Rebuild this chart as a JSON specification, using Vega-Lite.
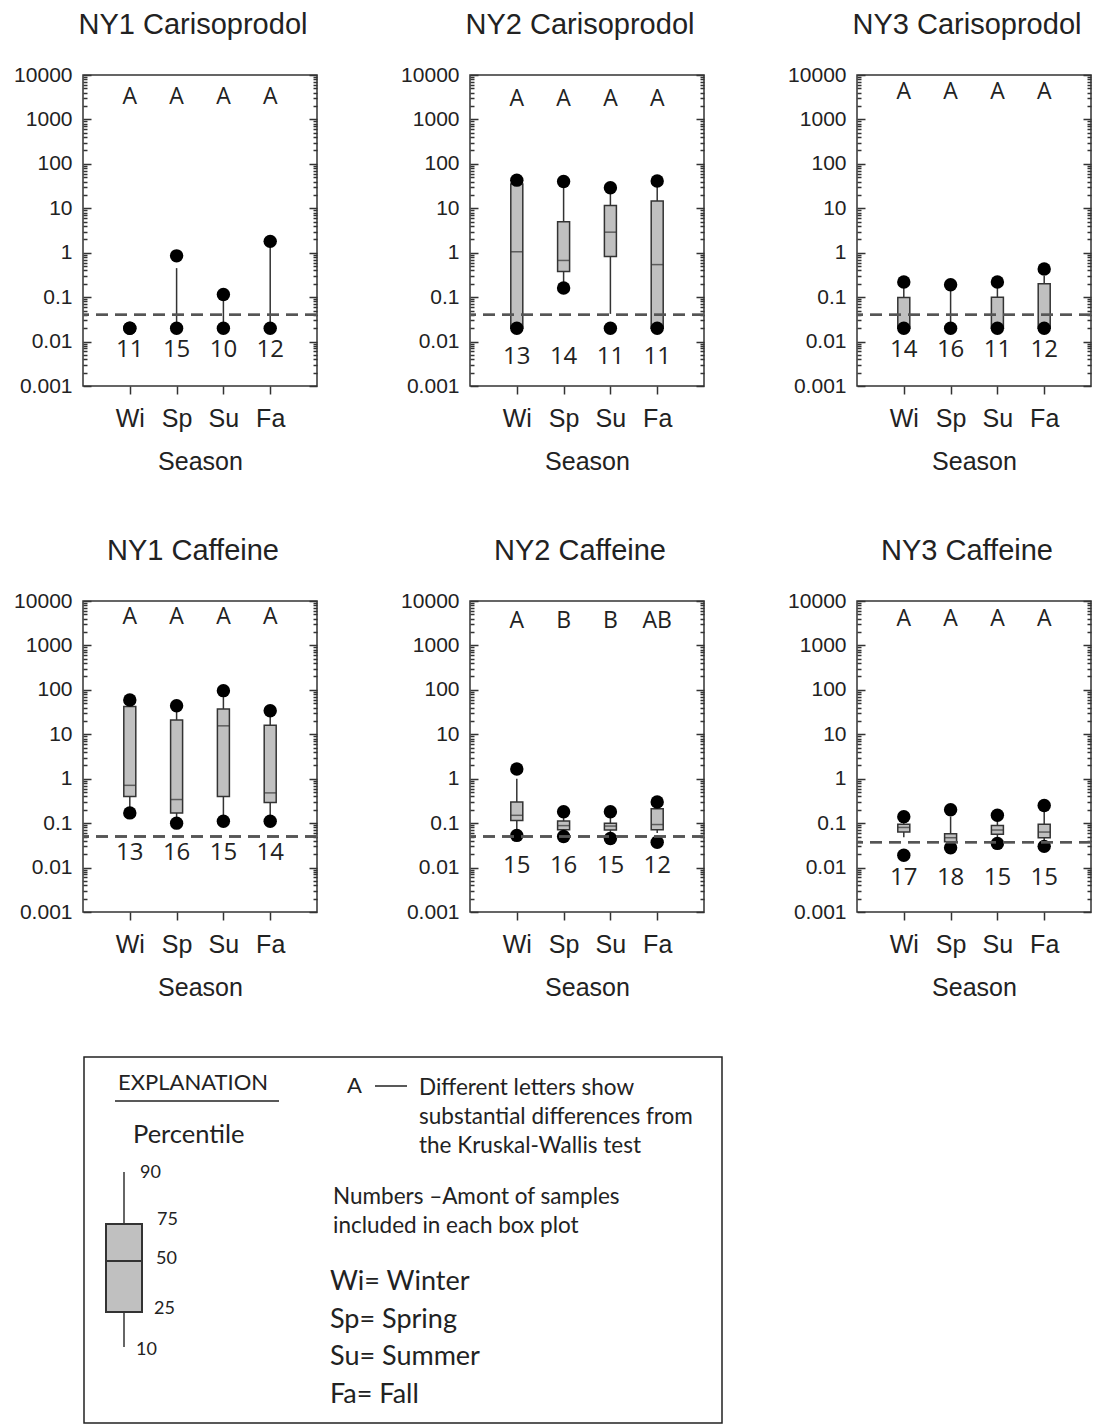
{
  "$schema": "https://vega.github.io/schema/vega-lite/v6.json",
  "padding": {"left": 12, "top": 10, "right": 0, "bottom": 0},
  "background": "white",
  "datasets": {
    "stats": [
      {"site": "NY1 Carisoprodol", "Season": "Wi", "n": 11, "letter": "A", "p10": 0.02, "p25": 0.02, "p50": 0.02, "p75": 0.02, "p90": 0.02, "lo": 0.02, "hi": 0.02},
      {"site": "NY1 Carisoprodol", "Season": "Sp", "n": 15, "letter": "A", "p10": 0.02, "p25": 0.02, "p50": 0.02, "p75": 0.02, "p90": 0.45, "lo": 0.02, "hi": 0.85},
      {"site": "NY1 Carisoprodol", "Season": "Su", "n": 10, "letter": "A", "p10": 0.02, "p25": 0.02, "p50": 0.02, "p75": 0.02, "p90": 0.09, "lo": 0.02, "hi": 0.115},
      {"site": "NY1 Carisoprodol", "Season": "Fa", "n": 12, "letter": "A", "p10": 0.02, "p25": 0.02, "p50": 0.02, "p75": 0.02, "p90": 1.4, "lo": 0.02, "hi": 1.8},
      {"site": "NY2 Carisoprodol", "Season": "Wi", "n": 13, "letter": "A", "p10": 0.02, "p25": 0.02, "p50": 1.05, "p75": 35, "p90": 40, "lo": 0.02, "hi": 43},
      {"site": "NY2 Carisoprodol", "Season": "Sp", "n": 14, "letter": "A", "p10": 0.22, "p25": 0.38, "p50": 0.67, "p75": 5.0, "p90": 30, "lo": 0.16, "hi": 40},
      {"site": "NY2 Carisoprodol", "Season": "Su", "n": 11, "letter": "A", "p10": 0.042, "p25": 0.82, "p50": 2.9, "p75": 11.6, "p90": 22, "lo": 0.02, "hi": 29},
      {"site": "NY2 Carisoprodol", "Season": "Fa", "n": 11, "letter": "A", "p10": 0.02, "p25": 0.02, "p50": 0.54, "p75": 14.5, "p90": 35, "lo": 0.02, "hi": 41},
      {"site": "NY3 Carisoprodol", "Season": "Wi", "n": 14, "letter": "A", "p10": 0.02, "p25": 0.02, "p50": 0.02, "p75": 0.098, "p90": 0.17, "lo": 0.02, "hi": 0.22},
      {"site": "NY3 Carisoprodol", "Season": "Sp", "n": 16, "letter": "A", "p10": 0.02, "p25": 0.02, "p50": 0.02, "p75": 0.02, "p90": 0.15, "lo": 0.02, "hi": 0.19},
      {"site": "NY3 Carisoprodol", "Season": "Su", "n": 11, "letter": "A", "p10": 0.02, "p25": 0.02, "p50": 0.02, "p75": 0.1, "p90": 0.17, "lo": 0.02, "hi": 0.22},
      {"site": "NY3 Carisoprodol", "Season": "Fa", "n": 12, "letter": "A", "p10": 0.02, "p25": 0.02, "p50": 0.02, "p75": 0.2, "p90": 0.3, "lo": 0.02, "hi": 0.43},
      {"site": "NY1 Caffeine", "Season": "Wi", "n": 13, "letter": "A", "p10": 0.22, "p25": 0.4, "p50": 0.71, "p75": 42, "p90": 50, "lo": 0.17, "hi": 59},
      {"site": "NY1 Caffeine", "Season": "Sp", "n": 16, "letter": "A", "p10": 0.13, "p25": 0.17, "p50": 0.34, "p75": 21, "p90": 35, "lo": 0.1, "hi": 44},
      {"site": "NY1 Caffeine", "Season": "Su", "n": 15, "letter": "A", "p10": 0.14, "p25": 0.4, "p50": 15.5, "p75": 37, "p90": 75, "lo": 0.11, "hi": 96},
      {"site": "NY1 Caffeine", "Season": "Fa", "n": 14, "letter": "A", "p10": 0.15, "p25": 0.29, "p50": 0.48, "p75": 16, "p90": 26, "lo": 0.11, "hi": 34},
      {"site": "NY2 Caffeine", "Season": "Wi", "n": 15, "letter": "A", "p10": 0.07, "p25": 0.115, "p50": 0.15, "p75": 0.3, "p90": 1.0, "lo": 0.053, "hi": 1.65},
      {"site": "NY2 Caffeine", "Season": "Sp", "n": 16, "letter": "B", "p10": 0.06, "p25": 0.071, "p50": 0.088, "p75": 0.112, "p90": 0.14, "lo": 0.05, "hi": 0.18},
      {"site": "NY2 Caffeine", "Season": "Su", "n": 15, "letter": "B", "p10": 0.058, "p25": 0.07, "p50": 0.086, "p75": 0.1, "p90": 0.14, "lo": 0.045, "hi": 0.18},
      {"site": "NY2 Caffeine", "Season": "Fa", "n": 12, "letter": "AB", "p10": 0.06, "p25": 0.071, "p50": 0.093, "p75": 0.21, "p90": 0.26, "lo": 0.037, "hi": 0.3},
      {"site": "NY3 Caffeine", "Season": "Wi", "n": 17, "letter": "A", "p10": 0.048, "p25": 0.063, "p50": 0.08, "p75": 0.094, "p90": 0.12, "lo": 0.019, "hi": 0.14},
      {"site": "NY3 Caffeine", "Season": "Sp", "n": 18, "letter": "A", "p10": 0.032, "p25": 0.038, "p50": 0.047, "p75": 0.058, "p90": 0.14, "lo": 0.028, "hi": 0.2},
      {"site": "NY3 Caffeine", "Season": "Su", "n": 15, "letter": "A", "p10": 0.04, "p25": 0.056, "p50": 0.07, "p75": 0.089, "p90": 0.12, "lo": 0.035, "hi": 0.15},
      {"site": "NY3 Caffeine", "Season": "Fa", "n": 15, "letter": "A", "p10": 0.035, "p25": 0.047, "p50": 0.063, "p75": 0.094, "p90": 0.18, "lo": 0.03, "hi": 0.25}
    ]
  },
  "vconcat": [
    {
      "spacing": 61,
      "vconcat": [
        {
          "spacing": 80,
          "hconcat": [
            {
              "title": {"text": "NY1 Carisoprodol"},
              "width": 234, "height": 311,
              "data": {"name": "stats"},
              "transform": [{"filter": "datum.site === 'NY1 Carisoprodol'"}],
              "resolve": {"axis": {"y": "independent"}},
              "layer": [
                {"mark": {"type": "rule", "color": "#333", "strokeWidth": 1.5},
                 "encoding": {"x": {"field": "Season", "type": "ordinal", "sort": ["Wi", "Sp", "Su", "Fa"], "scale": {"type": "point", "padding": 1}},
                   "y": {"field": "p10", "type": "quantitative", "scale": {"type": "log", "domain": [0.001, 10000], "nice": false},
                     "axis": {"orient": "left", "values": [0.001,0.002,0.003,0.004,0.005,0.006,0.007,0.008,0.009,0.01,0.02,0.03,0.04,0.05,0.06,0.07,0.08,0.09,0.1,0.2,0.3,0.4,0.5,0.6,0.7,0.8,0.9,1,2,3,4,5,6,7,8,9,10,20,30,40,50,60,70,80,90,100,200,300,400,500,600,700,800,900,1000,2000,3000,4000,5000,6000,7000,8000,9000,10000], "format": "~g", "labelExpr": "abs(log(datum.value)/LN10 - round(log(datum.value)/LN10)) < 0.01 ? datum.label : ''", "tickSize": {"condition": {"test": "abs(log(datum.value)/LN10 - round(log(datum.value)/LN10)) < 0.01", "value": -8}, "value": -4}, "labelPadding": 19, "labelFont": "Liberation Sans", "labelFontSize": 21, "labelOverlap": false, "labelFlush": false, "labelBound": false, "title": null}},
                   "y2": {"field": "p90"}}},
                {"mark": {"type": "bar", "size": 12, "fill": "#c0c0c0", "stroke": "#333", "strokeWidth": 1.5},
                 "encoding": {"x": {"field": "Season", "type": "ordinal", "sort": ["Wi", "Sp", "Su", "Fa"], "scale": {"type": "point", "padding": 1}}, "y": {"field": "p25", "type": "quantitative", "axis": null}, "y2": {"field": "p75"}}},
                {"mark": {"type": "tick", "size": 12, "thickness": 1.5, "color": "#333"},
                 "encoding": {"x": {"field": "Season", "type": "ordinal", "sort": ["Wi", "Sp", "Su", "Fa"], "scale": {"type": "point", "padding": 1}}, "y": {"field": "p50", "type": "quantitative", "axis": null}}},
                {"mark": {"type": "point", "filled": true, "size": 180, "color": "#000", "opacity": 1},
                 "encoding": {"x": {"field": "Season", "type": "ordinal", "sort": ["Wi", "Sp", "Su", "Fa"], "scale": {"type": "point", "padding": 1}}, "y": {"field": "hi", "type": "quantitative", "axis": null}}},
                {"mark": {"type": "point", "filled": true, "size": 180, "color": "#000", "opacity": 1},
                 "encoding": {"x": {"field": "Season", "type": "ordinal", "sort": ["Wi", "Sp", "Su", "Fa"], "scale": {"type": "point", "padding": 1}}, "y": {"field": "lo", "type": "quantitative", "axis": null}}},
                {"mark": {"type": "rule", "color": "#555", "strokeWidth": 2, "strokeDash": [12, 7]},
                 "encoding": {"y": {"datum": 0.04, "type": "quantitative",
                   "axis": {"orient": "right", "values": [0.001,0.002,0.003,0.004,0.005,0.006,0.007,0.008,0.009,0.01,0.02,0.03,0.04,0.05,0.06,0.07,0.08,0.09,0.1,0.2,0.3,0.4,0.5,0.6,0.7,0.8,0.9,1,2,3,4,5,6,7,8,9,10,20,30,40,50,60,70,80,90,100,200,300,400,500,600,700,800,900,1000,2000,3000,4000,5000,6000,7000,8000,9000,10000], "labels": false, "tickSize": {"condition": {"test": "abs(log(datum.value)/LN10 - round(log(datum.value)/LN10)) < 0.01", "value": -8}, "value": -4}, "title": null}}}},
                {"mark": {"type": "text", "font": "Open Sans", "fontSize": 23},
                 "encoding": {"x": {"field": "Season", "type": "ordinal", "sort": ["Wi", "Sp", "Su", "Fa"], "scale": {"type": "point", "padding": 1}}, "y": {"datum": 3200, "type": "quantitative", "axis": null}, "text": {"field": "letter"}}},
                {"mark": {"type": "text", "font": "Open Sans", "fontSize": 24},
                 "encoding": {"x": {"field": "Season", "type": "ordinal", "sort": ["Wi", "Sp", "Su", "Fa"], "scale": {"type": "point", "padding": 1}}, "y": {"datum": 0.0064, "type": "quantitative", "axis": null}, "text": {"field": "n"}}}
              ]
            },
            {
              "title": {"text": "NY2 Carisoprodol"},
              "width": 234, "height": 311,
              "data": {"name": "stats"},
              "transform": [{"filter": "datum.site === 'NY2 Carisoprodol'"}],
              "resolve": {"axis": {"y": "independent"}},
              "layer": [
                {"mark": {"type": "rule", "color": "#333", "strokeWidth": 1.5},
                 "encoding": {"x": {"field": "Season", "type": "ordinal", "sort": ["Wi", "Sp", "Su", "Fa"], "scale": {"type": "point", "padding": 1}},
                   "y": {"field": "p10", "type": "quantitative", "scale": {"type": "log", "domain": [0.001, 10000], "nice": false},
                     "axis": {"orient": "left", "values": [0.001,0.002,0.003,0.004,0.005,0.006,0.007,0.008,0.009,0.01,0.02,0.03,0.04,0.05,0.06,0.07,0.08,0.09,0.1,0.2,0.3,0.4,0.5,0.6,0.7,0.8,0.9,1,2,3,4,5,6,7,8,9,10,20,30,40,50,60,70,80,90,100,200,300,400,500,600,700,800,900,1000,2000,3000,4000,5000,6000,7000,8000,9000,10000], "format": "~g", "labelExpr": "abs(log(datum.value)/LN10 - round(log(datum.value)/LN10)) < 0.01 ? datum.label : ''", "tickSize": {"condition": {"test": "abs(log(datum.value)/LN10 - round(log(datum.value)/LN10)) < 0.01", "value": -8}, "value": -4}, "labelPadding": 19, "labelFont": "Liberation Sans", "labelFontSize": 21, "labelOverlap": false, "labelFlush": false, "labelBound": false, "title": null}},
                   "y2": {"field": "p90"}}},
                {"mark": {"type": "bar", "size": 12, "fill": "#c0c0c0", "stroke": "#333", "strokeWidth": 1.5},
                 "encoding": {"x": {"field": "Season", "type": "ordinal", "sort": ["Wi", "Sp", "Su", "Fa"], "scale": {"type": "point", "padding": 1}}, "y": {"field": "p25", "type": "quantitative", "axis": null}, "y2": {"field": "p75"}}},
                {"mark": {"type": "tick", "size": 12, "thickness": 1.5, "color": "#333"},
                 "encoding": {"x": {"field": "Season", "type": "ordinal", "sort": ["Wi", "Sp", "Su", "Fa"], "scale": {"type": "point", "padding": 1}}, "y": {"field": "p50", "type": "quantitative", "axis": null}}},
                {"mark": {"type": "point", "filled": true, "size": 180, "color": "#000", "opacity": 1},
                 "encoding": {"x": {"field": "Season", "type": "ordinal", "sort": ["Wi", "Sp", "Su", "Fa"], "scale": {"type": "point", "padding": 1}}, "y": {"field": "hi", "type": "quantitative", "axis": null}}},
                {"mark": {"type": "point", "filled": true, "size": 180, "color": "#000", "opacity": 1},
                 "encoding": {"x": {"field": "Season", "type": "ordinal", "sort": ["Wi", "Sp", "Su", "Fa"], "scale": {"type": "point", "padding": 1}}, "y": {"field": "lo", "type": "quantitative", "axis": null}}},
                {"mark": {"type": "rule", "color": "#555", "strokeWidth": 2, "strokeDash": [12, 7]},
                 "encoding": {"y": {"datum": 0.04, "type": "quantitative",
                   "axis": {"orient": "right", "values": [0.001,0.002,0.003,0.004,0.005,0.006,0.007,0.008,0.009,0.01,0.02,0.03,0.04,0.05,0.06,0.07,0.08,0.09,0.1,0.2,0.3,0.4,0.5,0.6,0.7,0.8,0.9,1,2,3,4,5,6,7,8,9,10,20,30,40,50,60,70,80,90,100,200,300,400,500,600,700,800,900,1000,2000,3000,4000,5000,6000,7000,8000,9000,10000], "labels": false, "tickSize": {"condition": {"test": "abs(log(datum.value)/LN10 - round(log(datum.value)/LN10)) < 0.01", "value": -8}, "value": -4}, "title": null}}}},
                {"mark": {"type": "text", "font": "Open Sans", "fontSize": 23},
                 "encoding": {"x": {"field": "Season", "type": "ordinal", "sort": ["Wi", "Sp", "Su", "Fa"], "scale": {"type": "point", "padding": 1}}, "y": {"datum": 2900, "type": "quantitative", "axis": null}, "text": {"field": "letter"}}},
                {"mark": {"type": "text", "font": "Open Sans", "fontSize": 24},
                 "encoding": {"x": {"field": "Season", "type": "ordinal", "sort": ["Wi", "Sp", "Su", "Fa"], "scale": {"type": "point", "padding": 1}}, "y": {"datum": 0.0045, "type": "quantitative", "axis": null}, "text": {"field": "n"}}}
              ]
            },
            {
              "title": {"text": "NY3 Carisoprodol"},
              "width": 234, "height": 311,
              "data": {"name": "stats"},
              "transform": [{"filter": "datum.site === 'NY3 Carisoprodol'"}],
              "resolve": {"axis": {"y": "independent"}},
              "layer": [
                {"mark": {"type": "rule", "color": "#333", "strokeWidth": 1.5},
                 "encoding": {"x": {"field": "Season", "type": "ordinal", "sort": ["Wi", "Sp", "Su", "Fa"], "scale": {"type": "point", "padding": 1}},
                   "y": {"field": "p10", "type": "quantitative", "scale": {"type": "log", "domain": [0.001, 10000], "nice": false},
                     "axis": {"orient": "left", "values": [0.001,0.002,0.003,0.004,0.005,0.006,0.007,0.008,0.009,0.01,0.02,0.03,0.04,0.05,0.06,0.07,0.08,0.09,0.1,0.2,0.3,0.4,0.5,0.6,0.7,0.8,0.9,1,2,3,4,5,6,7,8,9,10,20,30,40,50,60,70,80,90,100,200,300,400,500,600,700,800,900,1000,2000,3000,4000,5000,6000,7000,8000,9000,10000], "format": "~g", "labelExpr": "abs(log(datum.value)/LN10 - round(log(datum.value)/LN10)) < 0.01 ? datum.label : ''", "tickSize": {"condition": {"test": "abs(log(datum.value)/LN10 - round(log(datum.value)/LN10)) < 0.01", "value": -8}, "value": -4}, "labelPadding": 19, "labelFont": "Liberation Sans", "labelFontSize": 21, "labelOverlap": false, "labelFlush": false, "labelBound": false, "title": null}},
                   "y2": {"field": "p90"}}},
                {"mark": {"type": "bar", "size": 12, "fill": "#c0c0c0", "stroke": "#333", "strokeWidth": 1.5},
                 "encoding": {"x": {"field": "Season", "type": "ordinal", "sort": ["Wi", "Sp", "Su", "Fa"], "scale": {"type": "point", "padding": 1}}, "y": {"field": "p25", "type": "quantitative", "axis": null}, "y2": {"field": "p75"}}},
                {"mark": {"type": "tick", "size": 12, "thickness": 1.5, "color": "#333"},
                 "encoding": {"x": {"field": "Season", "type": "ordinal", "sort": ["Wi", "Sp", "Su", "Fa"], "scale": {"type": "point", "padding": 1}}, "y": {"field": "p50", "type": "quantitative", "axis": null}}},
                {"mark": {"type": "point", "filled": true, "size": 180, "color": "#000", "opacity": 1},
                 "encoding": {"x": {"field": "Season", "type": "ordinal", "sort": ["Wi", "Sp", "Su", "Fa"], "scale": {"type": "point", "padding": 1}}, "y": {"field": "hi", "type": "quantitative", "axis": null}}},
                {"mark": {"type": "point", "filled": true, "size": 180, "color": "#000", "opacity": 1},
                 "encoding": {"x": {"field": "Season", "type": "ordinal", "sort": ["Wi", "Sp", "Su", "Fa"], "scale": {"type": "point", "padding": 1}}, "y": {"field": "lo", "type": "quantitative", "axis": null}}},
                {"mark": {"type": "rule", "color": "#555", "strokeWidth": 2, "strokeDash": [12, 7]},
                 "encoding": {"y": {"datum": 0.04, "type": "quantitative",
                   "axis": {"orient": "right", "values": [0.001,0.002,0.003,0.004,0.005,0.006,0.007,0.008,0.009,0.01,0.02,0.03,0.04,0.05,0.06,0.07,0.08,0.09,0.1,0.2,0.3,0.4,0.5,0.6,0.7,0.8,0.9,1,2,3,4,5,6,7,8,9,10,20,30,40,50,60,70,80,90,100,200,300,400,500,600,700,800,900,1000,2000,3000,4000,5000,6000,7000,8000,9000,10000], "labels": false, "tickSize": {"condition": {"test": "abs(log(datum.value)/LN10 - round(log(datum.value)/LN10)) < 0.01", "value": -8}, "value": -4}, "title": null}}}},
                {"mark": {"type": "text", "font": "Open Sans", "fontSize": 23},
                 "encoding": {"x": {"field": "Season", "type": "ordinal", "sort": ["Wi", "Sp", "Su", "Fa"], "scale": {"type": "point", "padding": 1}}, "y": {"datum": 4100, "type": "quantitative", "axis": null}, "text": {"field": "letter"}}},
                {"mark": {"type": "text", "font": "Open Sans", "fontSize": 24},
                 "encoding": {"x": {"field": "Season", "type": "ordinal", "sort": ["Wi", "Sp", "Su", "Fa"], "scale": {"type": "point", "padding": 1}}, "y": {"datum": 0.0063, "type": "quantitative", "axis": null}, "text": {"field": "n"}}}
              ]
            }
          ]
        },
        {
          "spacing": 80,
          "hconcat": [
            {
              "title": {"text": "NY1 Caffeine"},
              "width": 234, "height": 311,
              "data": {"name": "stats"},
              "transform": [{"filter": "datum.site === 'NY1 Caffeine'"}],
              "resolve": {"axis": {"y": "independent"}},
              "layer": [
                {"mark": {"type": "rule", "color": "#333", "strokeWidth": 1.5},
                 "encoding": {"x": {"field": "Season", "type": "ordinal", "sort": ["Wi", "Sp", "Su", "Fa"], "scale": {"type": "point", "padding": 1}},
                   "y": {"field": "p10", "type": "quantitative", "scale": {"type": "log", "domain": [0.001, 10000], "nice": false},
                     "axis": {"orient": "left", "values": [0.001,0.002,0.003,0.004,0.005,0.006,0.007,0.008,0.009,0.01,0.02,0.03,0.04,0.05,0.06,0.07,0.08,0.09,0.1,0.2,0.3,0.4,0.5,0.6,0.7,0.8,0.9,1,2,3,4,5,6,7,8,9,10,20,30,40,50,60,70,80,90,100,200,300,400,500,600,700,800,900,1000,2000,3000,4000,5000,6000,7000,8000,9000,10000], "format": "~g", "labelExpr": "abs(log(datum.value)/LN10 - round(log(datum.value)/LN10)) < 0.01 ? datum.label : ''", "tickSize": {"condition": {"test": "abs(log(datum.value)/LN10 - round(log(datum.value)/LN10)) < 0.01", "value": -8}, "value": -4}, "labelPadding": 19, "labelFont": "Liberation Sans", "labelFontSize": 21, "labelOverlap": false, "labelFlush": false, "labelBound": false, "title": null}},
                   "y2": {"field": "p90"}}},
                {"mark": {"type": "bar", "size": 12, "fill": "#c0c0c0", "stroke": "#333", "strokeWidth": 1.5},
                 "encoding": {"x": {"field": "Season", "type": "ordinal", "sort": ["Wi", "Sp", "Su", "Fa"], "scale": {"type": "point", "padding": 1}}, "y": {"field": "p25", "type": "quantitative", "axis": null}, "y2": {"field": "p75"}}},
                {"mark": {"type": "tick", "size": 12, "thickness": 1.5, "color": "#333"},
                 "encoding": {"x": {"field": "Season", "type": "ordinal", "sort": ["Wi", "Sp", "Su", "Fa"], "scale": {"type": "point", "padding": 1}}, "y": {"field": "p50", "type": "quantitative", "axis": null}}},
                {"mark": {"type": "point", "filled": true, "size": 180, "color": "#000", "opacity": 1},
                 "encoding": {"x": {"field": "Season", "type": "ordinal", "sort": ["Wi", "Sp", "Su", "Fa"], "scale": {"type": "point", "padding": 1}}, "y": {"field": "hi", "type": "quantitative", "axis": null}}},
                {"mark": {"type": "point", "filled": true, "size": 180, "color": "#000", "opacity": 1},
                 "encoding": {"x": {"field": "Season", "type": "ordinal", "sort": ["Wi", "Sp", "Su", "Fa"], "scale": {"type": "point", "padding": 1}}, "y": {"field": "lo", "type": "quantitative", "axis": null}}},
                {"mark": {"type": "rule", "color": "#555", "strokeWidth": 2, "strokeDash": [12, 7]},
                 "encoding": {"y": {"datum": 0.05, "type": "quantitative",
                   "axis": {"orient": "right", "values": [0.001,0.002,0.003,0.004,0.005,0.006,0.007,0.008,0.009,0.01,0.02,0.03,0.04,0.05,0.06,0.07,0.08,0.09,0.1,0.2,0.3,0.4,0.5,0.6,0.7,0.8,0.9,1,2,3,4,5,6,7,8,9,10,20,30,40,50,60,70,80,90,100,200,300,400,500,600,700,800,900,1000,2000,3000,4000,5000,6000,7000,8000,9000,10000], "labels": false, "tickSize": {"condition": {"test": "abs(log(datum.value)/LN10 - round(log(datum.value)/LN10)) < 0.01", "value": -8}, "value": -4}, "title": null}}}},
                {"mark": {"type": "text", "font": "Open Sans", "fontSize": 23},
                 "encoding": {"x": {"field": "Season", "type": "ordinal", "sort": ["Wi", "Sp", "Su", "Fa"], "scale": {"type": "point", "padding": 1}}, "y": {"datum": 4400, "type": "quantitative", "axis": null}, "text": {"field": "letter"}}},
                {"mark": {"type": "text", "font": "Open Sans", "fontSize": 24},
                 "encoding": {"x": {"field": "Season", "type": "ordinal", "sort": ["Wi", "Sp", "Su", "Fa"], "scale": {"type": "point", "padding": 1}}, "y": {"datum": 0.021, "type": "quantitative", "axis": null}, "text": {"field": "n"}}}
              ]
            },
            {
              "title": {"text": "NY2 Caffeine"},
              "width": 234, "height": 311,
              "data": {"name": "stats"},
              "transform": [{"filter": "datum.site === 'NY2 Caffeine'"}],
              "resolve": {"axis": {"y": "independent"}},
              "layer": [
                {"mark": {"type": "rule", "color": "#333", "strokeWidth": 1.5},
                 "encoding": {"x": {"field": "Season", "type": "ordinal", "sort": ["Wi", "Sp", "Su", "Fa"], "scale": {"type": "point", "padding": 1}},
                   "y": {"field": "p10", "type": "quantitative", "scale": {"type": "log", "domain": [0.001, 10000], "nice": false},
                     "axis": {"orient": "left", "values": [0.001,0.002,0.003,0.004,0.005,0.006,0.007,0.008,0.009,0.01,0.02,0.03,0.04,0.05,0.06,0.07,0.08,0.09,0.1,0.2,0.3,0.4,0.5,0.6,0.7,0.8,0.9,1,2,3,4,5,6,7,8,9,10,20,30,40,50,60,70,80,90,100,200,300,400,500,600,700,800,900,1000,2000,3000,4000,5000,6000,7000,8000,9000,10000], "format": "~g", "labelExpr": "abs(log(datum.value)/LN10 - round(log(datum.value)/LN10)) < 0.01 ? datum.label : ''", "tickSize": {"condition": {"test": "abs(log(datum.value)/LN10 - round(log(datum.value)/LN10)) < 0.01", "value": -8}, "value": -4}, "labelPadding": 19, "labelFont": "Liberation Sans", "labelFontSize": 21, "labelOverlap": false, "labelFlush": false, "labelBound": false, "title": null}},
                   "y2": {"field": "p90"}}},
                {"mark": {"type": "bar", "size": 12, "fill": "#c0c0c0", "stroke": "#333", "strokeWidth": 1.5},
                 "encoding": {"x": {"field": "Season", "type": "ordinal", "sort": ["Wi", "Sp", "Su", "Fa"], "scale": {"type": "point", "padding": 1}}, "y": {"field": "p25", "type": "quantitative", "axis": null}, "y2": {"field": "p75"}}},
                {"mark": {"type": "tick", "size": 12, "thickness": 1.5, "color": "#333"},
                 "encoding": {"x": {"field": "Season", "type": "ordinal", "sort": ["Wi", "Sp", "Su", "Fa"], "scale": {"type": "point", "padding": 1}}, "y": {"field": "p50", "type": "quantitative", "axis": null}}},
                {"mark": {"type": "point", "filled": true, "size": 180, "color": "#000", "opacity": 1},
                 "encoding": {"x": {"field": "Season", "type": "ordinal", "sort": ["Wi", "Sp", "Su", "Fa"], "scale": {"type": "point", "padding": 1}}, "y": {"field": "hi", "type": "quantitative", "axis": null}}},
                {"mark": {"type": "point", "filled": true, "size": 180, "color": "#000", "opacity": 1},
                 "encoding": {"x": {"field": "Season", "type": "ordinal", "sort": ["Wi", "Sp", "Su", "Fa"], "scale": {"type": "point", "padding": 1}}, "y": {"field": "lo", "type": "quantitative", "axis": null}}},
                {"mark": {"type": "rule", "color": "#555", "strokeWidth": 2, "strokeDash": [12, 7]},
                 "encoding": {"y": {"datum": 0.05, "type": "quantitative",
                   "axis": {"orient": "right", "values": [0.001,0.002,0.003,0.004,0.005,0.006,0.007,0.008,0.009,0.01,0.02,0.03,0.04,0.05,0.06,0.07,0.08,0.09,0.1,0.2,0.3,0.4,0.5,0.6,0.7,0.8,0.9,1,2,3,4,5,6,7,8,9,10,20,30,40,50,60,70,80,90,100,200,300,400,500,600,700,800,900,1000,2000,3000,4000,5000,6000,7000,8000,9000,10000], "labels": false, "tickSize": {"condition": {"test": "abs(log(datum.value)/LN10 - round(log(datum.value)/LN10)) < 0.01", "value": -8}, "value": -4}, "title": null}}}},
                {"mark": {"type": "text", "font": "Open Sans", "fontSize": 23},
                 "encoding": {"x": {"field": "Season", "type": "ordinal", "sort": ["Wi", "Sp", "Su", "Fa"], "scale": {"type": "point", "padding": 1}}, "y": {"datum": 3500, "type": "quantitative", "axis": null}, "text": {"field": "letter"}}},
                {"mark": {"type": "text", "font": "Open Sans", "fontSize": 24},
                 "encoding": {"x": {"field": "Season", "type": "ordinal", "sort": ["Wi", "Sp", "Su", "Fa"], "scale": {"type": "point", "padding": 1}}, "y": {"datum": 0.011, "type": "quantitative", "axis": null}, "text": {"field": "n"}}}
              ]
            },
            {
              "title": {"text": "NY3 Caffeine"},
              "width": 234, "height": 311,
              "data": {"name": "stats"},
              "transform": [{"filter": "datum.site === 'NY3 Caffeine'"}],
              "resolve": {"axis": {"y": "independent"}},
              "layer": [
                {"mark": {"type": "rule", "color": "#333", "strokeWidth": 1.5},
                 "encoding": {"x": {"field": "Season", "type": "ordinal", "sort": ["Wi", "Sp", "Su", "Fa"], "scale": {"type": "point", "padding": 1}},
                   "y": {"field": "p10", "type": "quantitative", "scale": {"type": "log", "domain": [0.001, 10000], "nice": false},
                     "axis": {"orient": "left", "values": [0.001,0.002,0.003,0.004,0.005,0.006,0.007,0.008,0.009,0.01,0.02,0.03,0.04,0.05,0.06,0.07,0.08,0.09,0.1,0.2,0.3,0.4,0.5,0.6,0.7,0.8,0.9,1,2,3,4,5,6,7,8,9,10,20,30,40,50,60,70,80,90,100,200,300,400,500,600,700,800,900,1000,2000,3000,4000,5000,6000,7000,8000,9000,10000], "format": "~g", "labelExpr": "abs(log(datum.value)/LN10 - round(log(datum.value)/LN10)) < 0.01 ? datum.label : ''", "tickSize": {"condition": {"test": "abs(log(datum.value)/LN10 - round(log(datum.value)/LN10)) < 0.01", "value": -8}, "value": -4}, "labelPadding": 19, "labelFont": "Liberation Sans", "labelFontSize": 21, "labelOverlap": false, "labelFlush": false, "labelBound": false, "title": null}},
                   "y2": {"field": "p90"}}},
                {"mark": {"type": "bar", "size": 12, "fill": "#c0c0c0", "stroke": "#333", "strokeWidth": 1.5},
                 "encoding": {"x": {"field": "Season", "type": "ordinal", "sort": ["Wi", "Sp", "Su", "Fa"], "scale": {"type": "point", "padding": 1}}, "y": {"field": "p25", "type": "quantitative", "axis": null}, "y2": {"field": "p75"}}},
                {"mark": {"type": "tick", "size": 12, "thickness": 1.5, "color": "#333"},
                 "encoding": {"x": {"field": "Season", "type": "ordinal", "sort": ["Wi", "Sp", "Su", "Fa"], "scale": {"type": "point", "padding": 1}}, "y": {"field": "p50", "type": "quantitative", "axis": null}}},
                {"mark": {"type": "point", "filled": true, "size": 180, "color": "#000", "opacity": 1},
                 "encoding": {"x": {"field": "Season", "type": "ordinal", "sort": ["Wi", "Sp", "Su", "Fa"], "scale": {"type": "point", "padding": 1}}, "y": {"field": "hi", "type": "quantitative", "axis": null}}},
                {"mark": {"type": "point", "filled": true, "size": 180, "color": "#000", "opacity": 1},
                 "encoding": {"x": {"field": "Season", "type": "ordinal", "sort": ["Wi", "Sp", "Su", "Fa"], "scale": {"type": "point", "padding": 1}}, "y": {"field": "lo", "type": "quantitative", "axis": null}}},
                {"mark": {"type": "rule", "color": "#555", "strokeWidth": 2, "strokeDash": [12, 7]},
                 "encoding": {"y": {"datum": 0.037, "type": "quantitative",
                   "axis": {"orient": "right", "values": [0.001,0.002,0.003,0.004,0.005,0.006,0.007,0.008,0.009,0.01,0.02,0.03,0.04,0.05,0.06,0.07,0.08,0.09,0.1,0.2,0.3,0.4,0.5,0.6,0.7,0.8,0.9,1,2,3,4,5,6,7,8,9,10,20,30,40,50,60,70,80,90,100,200,300,400,500,600,700,800,900,1000,2000,3000,4000,5000,6000,7000,8000,9000,10000], "labels": false, "tickSize": {"condition": {"test": "abs(log(datum.value)/LN10 - round(log(datum.value)/LN10)) < 0.01", "value": -8}, "value": -4}, "title": null}}}},
                {"mark": {"type": "text", "font": "Open Sans", "fontSize": 23},
                 "encoding": {"x": {"field": "Season", "type": "ordinal", "sort": ["Wi", "Sp", "Su", "Fa"], "scale": {"type": "point", "padding": 1}}, "y": {"datum": 4000, "type": "quantitative", "axis": null}, "text": {"field": "letter"}}},
                {"mark": {"type": "text", "font": "Open Sans", "fontSize": 24},
                 "encoding": {"x": {"field": "Season", "type": "ordinal", "sort": ["Wi", "Sp", "Su", "Fa"], "scale": {"type": "point", "padding": 1}}, "y": {"datum": 0.0058, "type": "quantitative", "axis": null}, "text": {"field": "n"}}}
              ]
            }
          ]
        }
      ]
    },
    {
      "width": 639, "height": 366,
      "view": {"stroke": null},
      "data": {"values": [{}]},
      "layer": [
        {"mark": {"type": "rect", "fillOpacity": 0, "stroke": "#222", "strokeWidth": 1.5},
         "encoding": {"x": {"datum": 0, "type": "quantitative", "scale": {"domain": [-1, 638], "nice": false, "zero": false}, "axis": null}, "x2": {"datum": 638},
                      "y": {"datum": 0, "type": "quantitative", "scale": {"domain": [0, 366], "nice": false, "zero": false, "reverse": true}, "axis": null}, "y2": {"datum": 366}}},
        {"mark": {"type": "text", "text": "EXPLANATION", "font": "Lato", "fontSize": 22, "align": "left", "baseline": "middle", "color": "#222"},
         "encoding": {"x": {"datum": 34, "type": "quantitative"}, "y": {"datum": 26, "type": "quantitative"}}},
        {"mark": {"type": "rule", "color": "#222", "strokeWidth": 1.5},
         "encoding": {"x": {"datum": 31, "type": "quantitative"}, "x2": {"datum": 195}, "y": {"datum": 44, "type": "quantitative"}}},
        {"mark": {"type": "text", "text": "Percentile", "font": "Lato", "fontSize": 25.5, "align": "left", "baseline": "middle", "color": "#222"},
         "encoding": {"x": {"datum": 49, "type": "quantitative"}, "y": {"datum": 78, "type": "quantitative"}}},
        {"mark": {"type": "rule", "color": "#333", "strokeWidth": 1.5},
         "encoding": {"x": {"datum": 40, "type": "quantitative"}, "y": {"datum": 115, "type": "quantitative"}, "y2": {"datum": 290}}},
        {"mark": {"type": "rect", "fill": "#c0c0c0", "stroke": "#333", "strokeWidth": 2},
         "encoding": {"x": {"datum": 22, "type": "quantitative"}, "x2": {"datum": 58}, "y": {"datum": 167, "type": "quantitative"}, "y2": {"datum": 255}}},
        {"mark": {"type": "rule", "color": "#333", "strokeWidth": 2},
         "encoding": {"x": {"datum": 22, "type": "quantitative"}, "x2": {"datum": 58}, "y": {"datum": 204, "type": "quantitative"}}},
        {"mark": {"type": "text", "text": "90", "font": "Lato", "fontSize": 18, "align": "left", "baseline": "middle", "color": "#222"},
         "encoding": {"x": {"datum": 56, "type": "quantitative"}, "y": {"datum": 116, "type": "quantitative"}}},
        {"mark": {"type": "text", "text": "75", "font": "Lato", "fontSize": 18, "align": "left", "baseline": "middle", "color": "#222"},
         "encoding": {"x": {"datum": 73, "type": "quantitative"}, "y": {"datum": 163, "type": "quantitative"}}},
        {"mark": {"type": "text", "text": "50", "font": "Lato", "fontSize": 18, "align": "left", "baseline": "middle", "color": "#222"},
         "encoding": {"x": {"datum": 72, "type": "quantitative"}, "y": {"datum": 202, "type": "quantitative"}}},
        {"mark": {"type": "text", "text": "25", "font": "Lato", "fontSize": 18, "align": "left", "baseline": "middle", "color": "#222"},
         "encoding": {"x": {"datum": 70, "type": "quantitative"}, "y": {"datum": 252, "type": "quantitative"}}},
        {"mark": {"type": "text", "text": "10", "font": "Lato", "fontSize": 18, "align": "left", "baseline": "middle", "color": "#222"},
         "encoding": {"x": {"datum": 52, "type": "quantitative"}, "y": {"datum": 293, "type": "quantitative"}}},
        {"mark": {"type": "text", "text": "A", "font": "Lato", "fontSize": 22, "align": "left", "baseline": "middle", "color": "#222"},
         "encoding": {"x": {"datum": 263, "type": "quantitative"}, "y": {"datum": 29, "type": "quantitative"}}},
        {"mark": {"type": "rule", "color": "#222", "strokeWidth": 1.5},
         "encoding": {"x": {"datum": 291, "type": "quantitative"}, "x2": {"datum": 323}, "y": {"datum": 29, "type": "quantitative"}}},
        {"mark": {"type": "text", "text": ["Different letters show", "substantial differences from", "the Kruskal-Wallis test"], "lineHeight": 29, "font": "Lato", "fontSize": 22.5, "align": "left", "baseline": "top", "color": "#222"},
         "encoding": {"x": {"datum": 335, "type": "quantitative"}, "y": {"datum": 20, "type": "quantitative"}}},
        {"mark": {"type": "text", "text": ["Numbers –Amont of samples", "included in each box plot"], "lineHeight": 29, "font": "Lato", "fontSize": 22.5, "align": "left", "baseline": "top", "color": "#222"},
         "encoding": {"x": {"datum": 249, "type": "quantitative"}, "y": {"datum": 129, "type": "quantitative"}}},
        {"mark": {"type": "text", "text": ["Wi= Winter", "Sp= Spring", "Su= Summer", "Fa= Fall"], "lineHeight": 37.5, "font": "Lato", "fontSize": 27, "align": "left", "baseline": "top", "color": "#222"},
         "encoding": {"x": {"datum": 246, "type": "quantitative"}, "y": {"datum": 212, "type": "quantitative"}}}
      ]
    }
  ],
  "spacing": 55,
  "config": {
    "view": {"stroke": "#333", "strokeWidth": 1.5},
    "title": {"font": "Liberation Sans", "fontSize": 29, "fontWeight": "normal", "color": "#222", "offset": 24, "frame": "group", "dx": -7},
    "axis": {"domain": false, "grid": false, "tickColor": "#333", "tickWidth": 1.5, "labelColor": "#222", "titleColor": "#222"},
    "axisX": {"labelFont": "Liberation Sans", "labelFontSize": 25, "labelAngle": 0, "tickSize": 8, "labelPadding": 12, "titleFont": "Liberation Sans", "titleFontSize": 25, "titleFontWeight": "normal", "titlePadding": 18},
    "text": {"color": "#222"}
  }
}
